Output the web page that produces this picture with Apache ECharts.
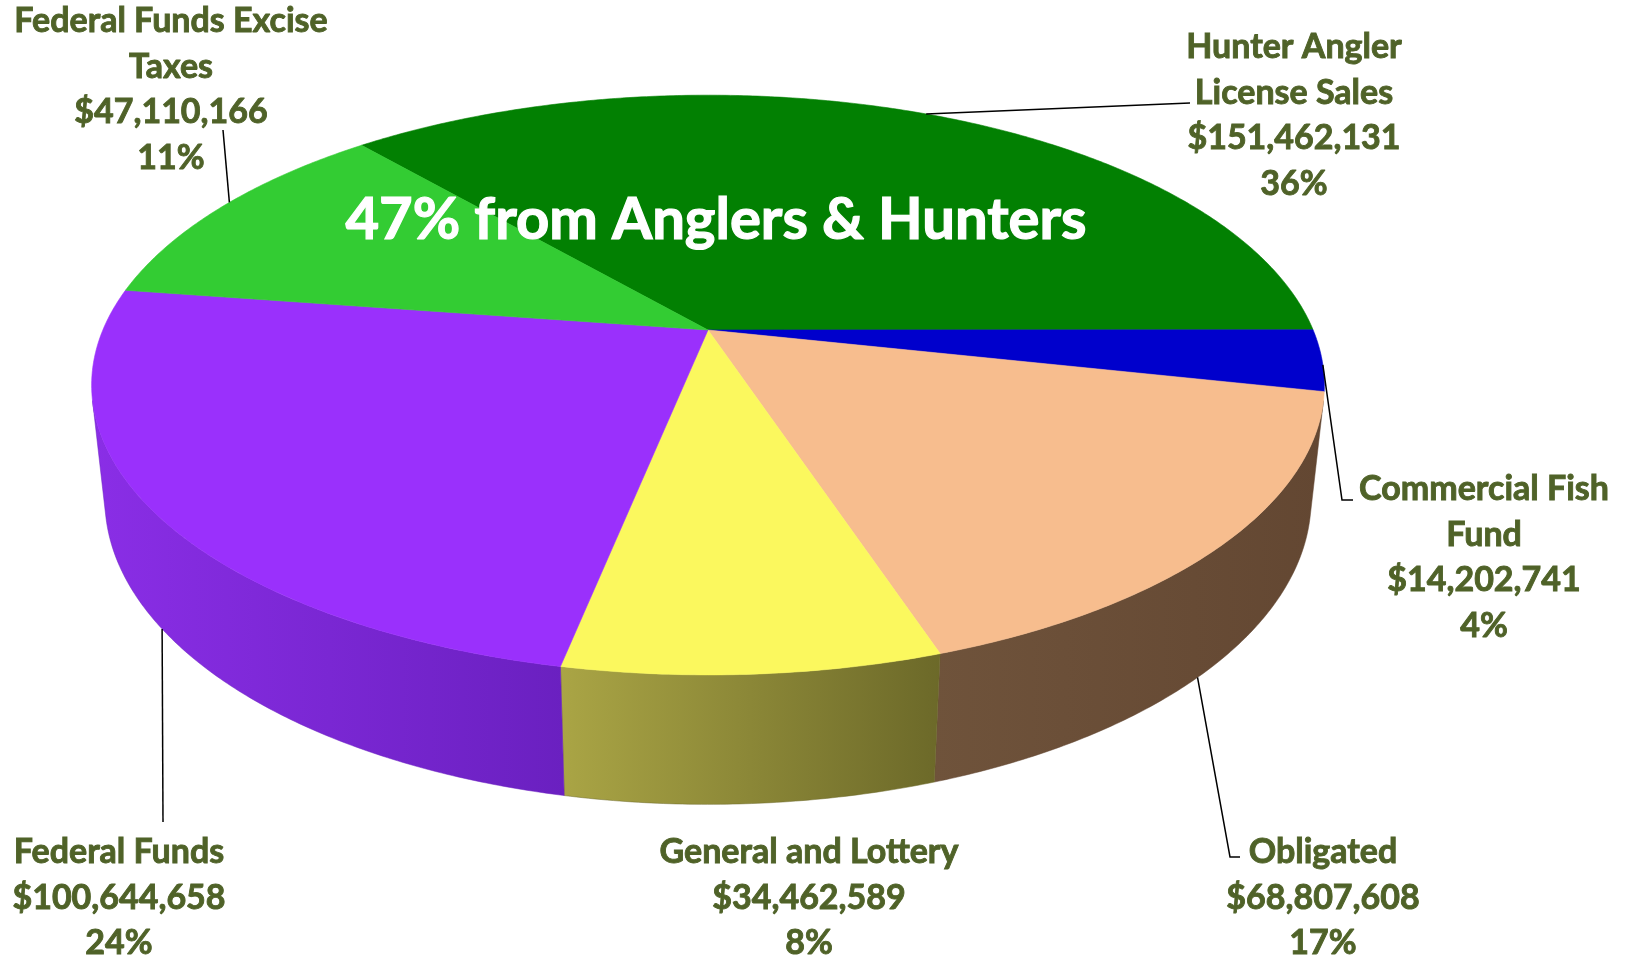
<!DOCTYPE html>
<html>
<head>
<meta charset="utf-8">
<script src="https://cdn.jsdelivr.net/npm/echarts@6/dist/echarts.min.js"></script>
<style>
  html, body { margin: 0; padding: 0; background: #ffffff; }
  #chart { width: 1627px; height: 959px; }
</style>
</head>
<body>
<div id="chart"></div>
<script>
// Revenue sources, listed clockwise from the first slice
const categories = [
  'Hunter Angler License Sales',
  'Commercial Fish Fund',
  'Obligated',
  'General and Lottery',
  'Federal Funds',
  'Federal Funds Excise Taxes'
];
const labelLines = [
  ['Hunter Angler', 'License Sales'],
  ['Commercial Fish', 'Fund'],
  ['Obligated'],
  ['General and Lottery'],
  ['Federal Funds'],
  ['Federal Funds Excise', 'Taxes']
];
const amounts = [151462131, 14202741, 68807608, 34462589, 100644658, 47110166];
const percentLabels = ['36%', '4%', '17%', '8%', '24%', '11%'];
const headline = '47% from Anglers & Hunters';

// Slice colours: top faces and the two ends of each side's shading
const topColors = ['#028002', '#0000cc', '#f7bd8e', '#fbf85e', '#9a30fc', '#33cc33'];
const sideColors = [
  ['#015a01', '#014a01'],
  ['#00009c', '#00008a'],
  ['#6f533b', '#634732'],
  ['#aaa545', '#6c6929'],
  ['#8a2ee6', '#6a20c0'],
  ['#26a026', '#1f861f']
];

// Camera looking down on a unit-radius disc: tilt in degrees, distance in radii,
// focal length in pixels, disc thickness in radii, first slice angle clockwise from the back
const VIEW = { cx: 708, cy: 330, tilt: 27.5, dist: 4.67, focal: 2826, thickness: 0.214, startAngle: 319.1 };

// Label placement: text centre x, first-line centre y, leader anchor on the rim
// (angle, on the lower edge or not) and the leader's end points near the text
const LABEL_LAYOUT = [
  { x: 1294, y: 47,  anchor: 25,    lower: false, tail: [[1190, 103]] },
  { x: 1484, y: 489, anchor: 97,    lower: false, tail: [[1342, 500], [1353, 500]] },
  { x: 1323, y: 852, anchor: 134,   lower: true,  tail: [[1230, 857], [1240, 857]] },
  { x: 809,  y: 852, anchor: null },
  { x: 119,  y: 852, anchor: 235.5, lower: true,  tail: [[163, 822]] },
  { x: 171,  y: 21,  anchor: 300,   lower: false, tail: [[223, 130]] }
];
const LINE_H = 45.6;
const LABEL_FONT = 'bold 34px Lato, "Open Sans", sans-serif';
const LABEL_COLOR = '#4f6228';

const total = amounts.reduce((a, b) => a + b, 0);
const spans = amounts.map(v => v / total * 360);
const starts = [];
(function () {
  let acc = VIEW.startAngle;
  spans.forEach(s => { starts.push(acc); acc += s; });
})();

const SIN_T = Math.sin(VIEW.tilt * Math.PI / 180);
const COS_T = Math.cos(VIEW.tilt * Math.PI / 180);

// Perspective projection of a rim point: angle in degrees clockwise from the back,
// lower = true for the bottom edge of the disc
function proj(deg, lower) {
  const t = deg * Math.PI / 180;
  const x = Math.sin(t), z = -Math.cos(t), y = lower ? -VIEW.thickness : 0;
  const zc = VIEW.dist - y * SIN_T - z * COS_T;
  return [
    VIEW.cx + VIEW.focal * x / zc,
    VIEW.cy + VIEW.focal * (z * SIN_T - y * COS_T) / zc
  ];
}
function arc(a, b, lower) {
  const pts = [];
  const n = Math.max(2, Math.ceil(Math.abs(b - a) / 0.5));
  for (let i = 0; i <= n; i++) pts.push(proj(a + (b - a) * i / n, lower));
  return pts;
}
// Part of the cylinder wall that faces the camera
const VIS = Math.acos(-1 / (VIEW.dist * COS_T)) * 180 / Math.PI;

function renderSide(params) {
  const i = params.dataIndex;
  const a0 = starts[i], a1 = starts[i] + spans[i];
  const children = [];
  [0, 360, -360].forEach(off => {
    const lo = Math.max(a0, VIS + off), hi = Math.min(a1, 360 - VIS + off);
    if (hi > lo) {
      const pts = arc(lo, hi, false).concat(arc(hi, lo, true));
      children.push({
        type: 'polygon',
        shape: { points: pts },
        style: {
          fill: new echarts.graphic.LinearGradient(0, 0, 1, 0, [
            { offset: 0, color: sideColors[i][0] },
            { offset: 1, color: sideColors[i][1] }
          ]),
          stroke: sideColors[i][1], lineWidth: 0.5
        }
      });
    }
  });
  return { type: 'group', children: children };
}

function renderTop(params) {
  const i = params.dataIndex;
  const a0 = starts[i], a1 = starts[i] + spans[i];
  const pts = [[VIEW.cx, VIEW.cy]].concat(arc(a0, a1, false));
  return {
    type: 'polygon',
    shape: { points: pts },
    style: { fill: topColors[i], stroke: topColors[i], lineWidth: 0.6 }
  };
}

function renderLabel(params) {
  const i = params.dataIndex;
  const L = LABEL_LAYOUT[i];
  const txt = labelLines[i].concat(['$' + amounts[i].toLocaleString('en-US'), percentLabels[i]]).join('\n');
  const children = [{
    type: 'text',
    x: L.x, y: L.y - LINE_H / 2,
    style: {
      text: txt, font: LABEL_FONT, fill: LABEL_COLOR,
      stroke: LABEL_COLOR, lineWidth: 0.9,
      align: 'center', verticalAlign: 'top', lineHeight: LINE_H
    }
  }];
  if (L.anchor !== null) {
    const p = proj(L.anchor, L.lower);
    children.push({
      type: 'polyline',
      shape: { points: [p].concat(L.tail) },
      style: { stroke: '#000000', lineWidth: 1.5, fill: null }
    });
  }
  return { type: 'group', children: children };
}

const chart = echarts.init(document.getElementById('chart'), null, { renderer: 'canvas' });
const seriesData = amounts.map((v, i) => ({ name: categories[i], value: v }));
chart.setOption({
  animation: false,
  backgroundColor: '#ffffff',
  series: [
    { type: 'custom', coordinateSystem: 'none', silent: true, z: 1, data: seriesData, renderItem: renderSide },
    { type: 'custom', coordinateSystem: 'none', silent: true, z: 2, data: seriesData, renderItem: renderTop },
    { type: 'custom', coordinateSystem: 'none', silent: true, z: 3, data: seriesData, renderItem: renderLabel }
  ],
  graphic: [{
    type: 'text', z: 10, x: 716, y: 220,
    style: {
      text: headline, font: 'bold 58px Lato, "Open Sans", sans-serif', fill: '#ffffff',
      stroke: '#ffffff', lineWidth: 1.2,
      align: 'center', verticalAlign: 'middle'
    }
  }]
});
</script>
</body>
</html>
